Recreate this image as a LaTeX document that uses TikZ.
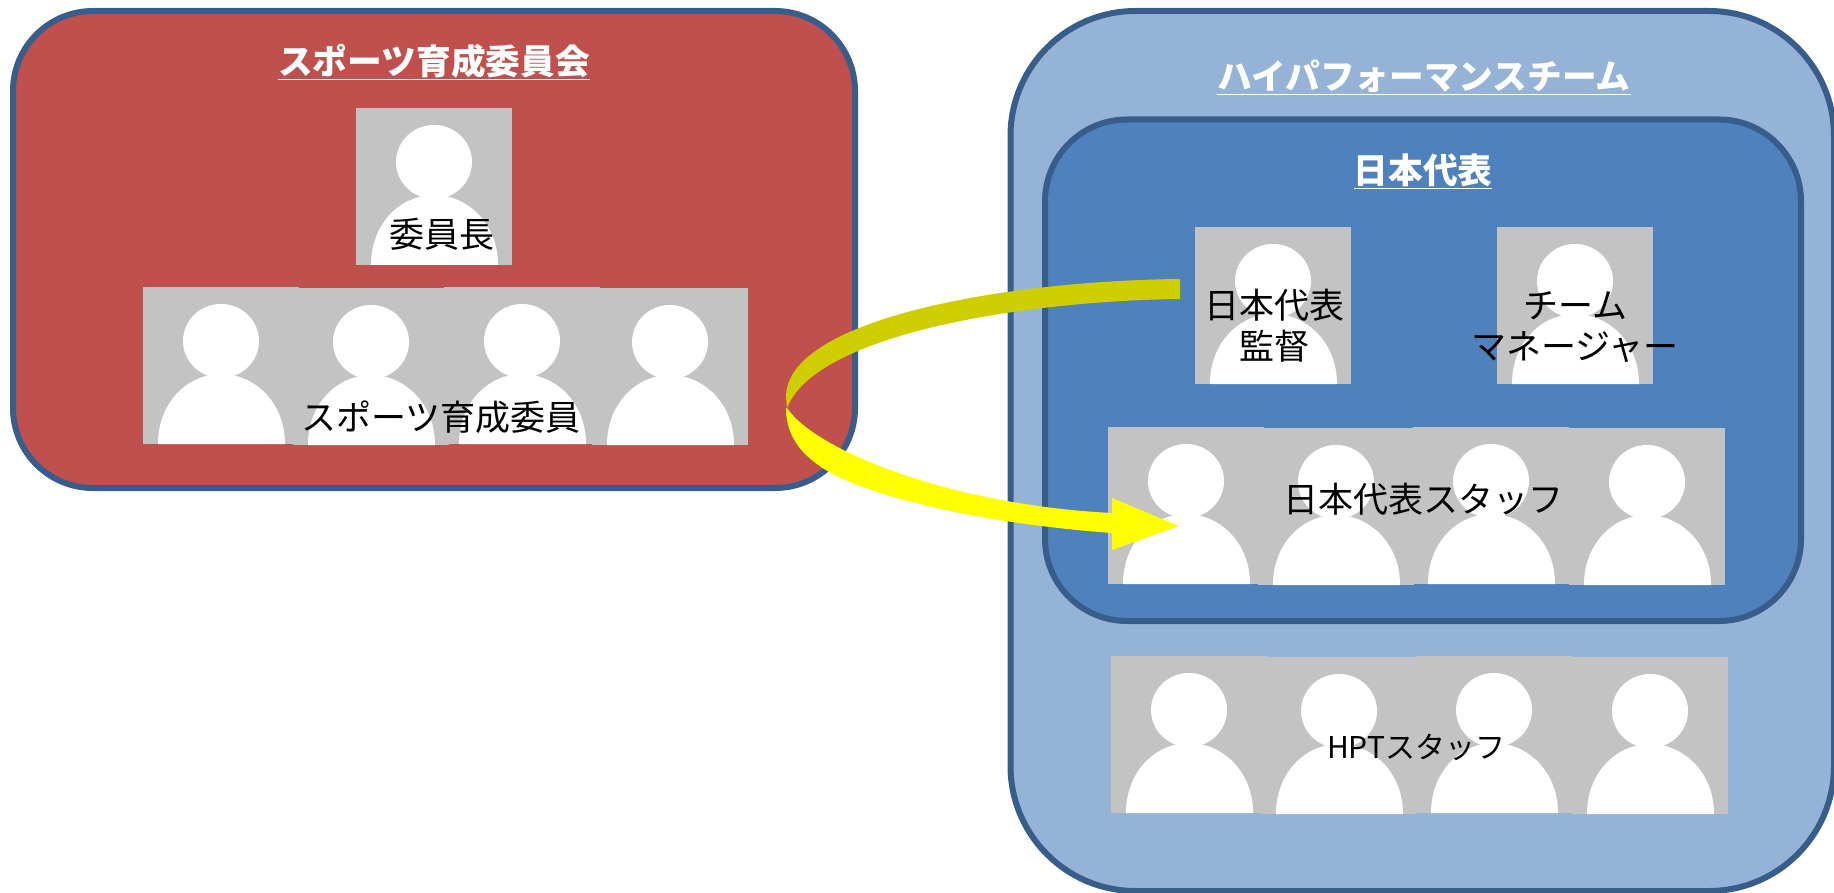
\documentclass[tikz,border=0pt]{standalone}
\usepackage{fontspec}
\setmainfont{Noto Sans CJK JP}
\definecolor{redbox}{HTML}{C0504D}
\definecolor{edgeblue}{HTML}{385D8A}
\definecolor{lightbox}{HTML}{95B3D7}
\definecolor{midbox}{HTML}{4F81BD}
\definecolor{tilegray}{HTML}{C3C3C3}
\definecolor{darkyellow}{HTML}{CFCE00}
\definecolor{brightyellow}{HTML}{FFFF00}
\begin{document}
\begin{tikzpicture}[x=1pt,y=-1pt,
    panel/.style={draw=edgeblue,line width=6pt},
    heading/.style={text=white,font=\fontsize{34.7}{40}\selectfont\bfseries},
    caption/.style={text=black,align=center,font=\fontsize{35}{41}\selectfont},
    photo/.pic={
        \fill[tilegray] (0,0) rectangle (156,157);
        \fill[white] (78,54) ellipse [x radius=38,y radius=37];
        \fill[white] (15,157) .. controls (15,115) and (45,87) .. (78,87) .. controls (111,87) and (142,115) .. (142,157) -- cycle;
    }]
    \useasboundingbox (0,0) rectangle (1834,893);

    \draw[panel,fill=redbox,rounded corners=80pt] (13,11) rectangle (855,488);
    \draw[panel,fill=lightbox,rounded corners=125pt] (1010.5,11) rectangle (1834,891);
    \draw[panel,fill=midbox,rounded corners=82pt] (1045,119.5) rectangle (1801,621);

    \pic (chair) at (356,108) {photo};
    \foreach \n/\x/\y in {1/143/287,2/293/288,3/444/287,4/592/288}
        \pic (member\n) at (\x,\y) {photo};
    \pic (coach) at (1195,227) {photo};
    \pic (manager) at (1497,227) {photo};
    \foreach \n/\x/\y in {1/1108/427,2/1258/428,3/1413/427,4/1569/428}
        \pic (staff\n) at (\x,\y) {photo};
    \foreach \n/\x/\y in {1/1111/656,2/1261/657,3/1416/656,4/1572/657}
        \pic (hpt\n) at (\x,\y) {photo};

    \node[heading] (committee) at (434,62) {\underline{スポーツ育成委員会}};
    \node[heading] (hpteam) at (1424,77) {\underline{ハイパフォーマンスチーム}};
    \node[heading] (japan) at (1423,171) {\underline{日本代表}};

    \node[caption] (chairlabel) at (442,234) {委員長};
    \node[caption] (memberlabel) at (441,417) {スポーツ育成委員};
    \node[caption] (coachlabel) at (1274,326) {日本代表\\監督};
    \node[caption] (managerlabel) at (1575,327) {チーム\\マネージャー};
    \node[caption] (stafflabel) at (1423,499) {日本代表スタッフ};
    \node[caption,font=\fontsize{30}{36}\selectfont] (hptlabel) at (1416,747) {HPTスタッフ};

    \fill[darkyellow] (1180,279) .. controls (1000,281) and (786,320) .. (786,397) -- (787,408)
        .. controls (815,335) and (1020,301) .. (1180,299) -- cycle;
    \fill[brightyellow] (787,408) .. controls (815,450) and (950,505) .. (1112,513) -- (1112,498) -- (1179,526) -- (1112,550) -- (1112,533)
        .. controls (990,524) and (880,500) .. (829,472) .. controls (800,455) and (786,435) .. (786,408) -- cycle;
\end{tikzpicture}
\end{document}
